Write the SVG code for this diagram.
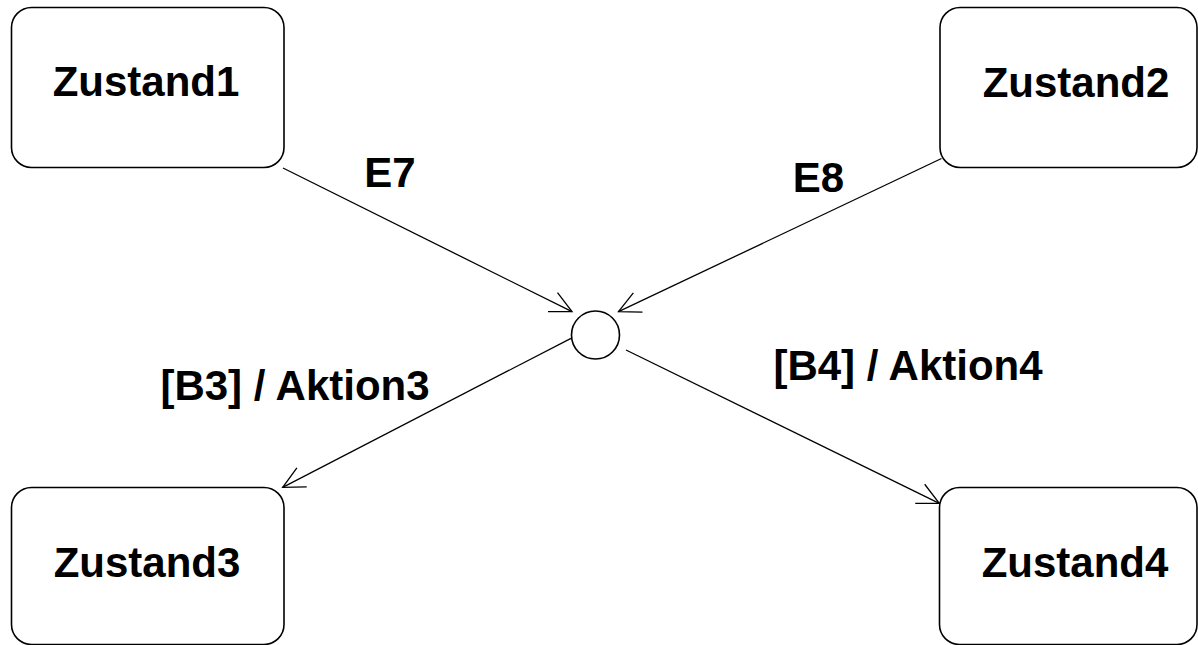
<svg xmlns="http://www.w3.org/2000/svg" width="1198" height="645" viewBox="0 0 1198 645">
  <style>
    .state { fill: #ffffff; stroke: #000000; stroke-width: 1.6; }
    .name { font-family: "Liberation Sans", Arial, sans-serif; font-weight: bold; font-size: 42px; fill: #000000; text-anchor: middle; }
    .edge { fill: none; stroke: #000000; stroke-width: 1.3; }
    .label { font-family: "Liberation Sans", Arial, sans-serif; font-weight: bold; font-size: 42px; fill: #000000; text-anchor: middle; }
    .junction { fill: #ffffff; stroke: #000000; stroke-width: 1.6; }
  </style>
  <defs>
    <marker id="open-arrow" markerUnits="userSpaceOnUse" markerWidth="30" markerHeight="30" viewBox="-26 -15 30 30" refX="0" refY="0" orient="auto" overflow="visible">
      <path d="M -21.5 -10.7 L 0 0 L -21.5 10.7" fill="none" stroke="#000000" stroke-width="1.3"/>
    </marker>
  </defs>
  <rect width="1198" height="645" fill="#ffffff"/>

  <g id="zustand1">
    <rect class="state" x="11.5" y="7.5" width="272.5" height="160" rx="20" ry="20"/>
    <text class="name" x="146" y="96">Zustand1</text>
  </g>
  <g id="zustand2">
    <rect class="state" x="940" y="7.5" width="257" height="160" rx="20" ry="20"/>
    <text class="name" x="1076" y="97">Zustand2</text>
  </g>
  <g id="zustand3">
    <rect class="state" x="11.5" y="487.5" width="272.5" height="157" rx="20" ry="20"/>
    <text class="name" x="147" y="577">Zustand3</text>
  </g>
  <g id="zustand4">
    <rect class="state" x="939.5" y="487.5" width="257.5" height="157" rx="20" ry="20"/>
    <text class="name" x="1075" y="577">Zustand4</text>
  </g>
  <g id="junction">
    <circle class="junction" cx="595.5" cy="335" r="24"/>
  </g>

  <g id="connectors">
    <line class="edge" x1="283" y1="168" x2="572" y2="311.7" marker-end="url(#open-arrow)"/>
    <line class="edge" x1="941.5" y1="158.5" x2="618.5" y2="311.7" marker-end="url(#open-arrow)"/>
    <line class="edge" x1="571" y1="338.3" x2="282.7" y2="487.3" marker-end="url(#open-arrow)"/>
    <line class="edge" x1="626" y1="350" x2="939.3" y2="503.3" marker-end="url(#open-arrow)"/>
  </g>

  <g id="labels">
    <text class="label" x="390" y="187">E7</text>
    <text class="label" x="818.5" y="192">E8</text>
    <text class="label" x="295" y="400">[B3] / Aktion3</text>
    <text class="label" x="908" y="380">[B4] / Aktion4</text>
  </g>
</svg>
